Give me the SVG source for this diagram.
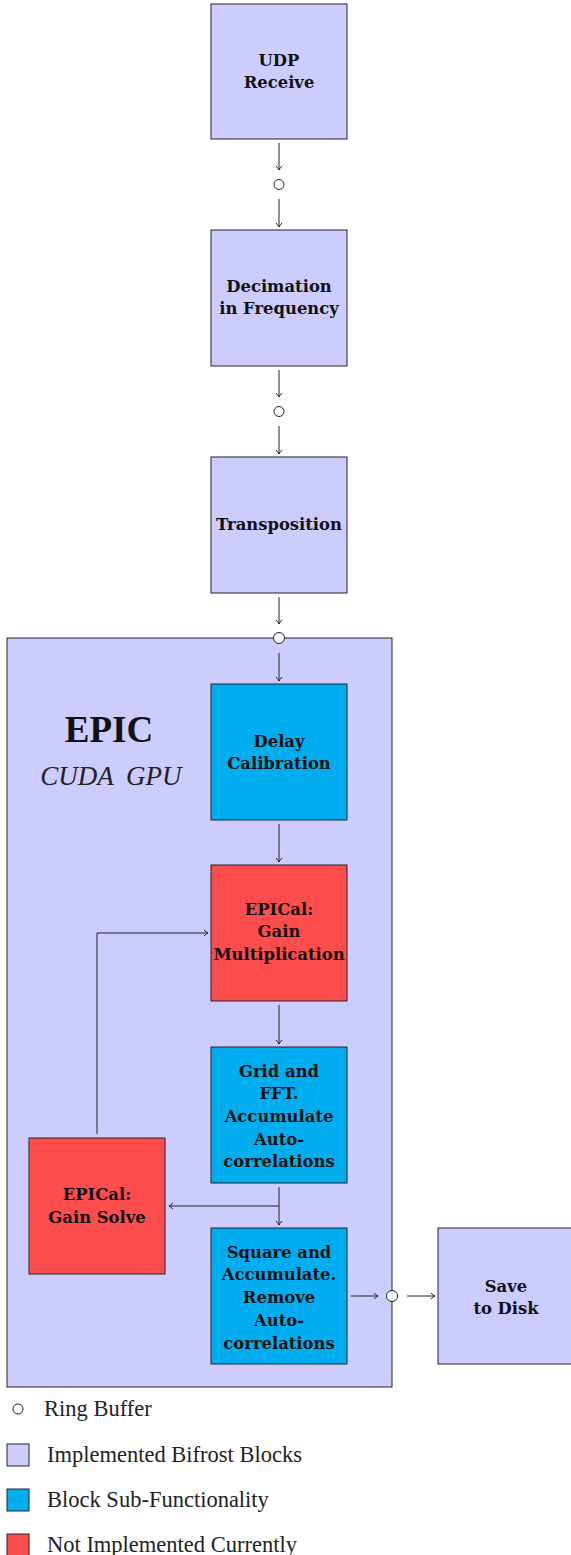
<svg xmlns="http://www.w3.org/2000/svg" width="571" height="1555" viewBox="0 0 571 1555">
<defs>
<marker id="arr" markerUnits="userSpaceOnUse" markerWidth="10" markerHeight="10" viewBox="-6 -5 10 10" refX="0" refY="0" orient="auto">
<path d="M-4,-3 Q-1.5,-0.6 0,0 Q-1.5,0.6 -4,3" fill="none" stroke="#222" stroke-width="1"/>
</marker>
<style>
.blk{stroke:#222;stroke-width:1}
.lav{fill:#ccccff}
.cy{fill:#00aeef}
.rd{fill:#ff4c4c}
.t{font-family:"DejaVu Serif","Liberation Serif",serif;font-weight:bold;font-size:16.4px;fill:#111;text-anchor:middle}
.c{stroke:#222;stroke-width:1;fill:none}
.a{stroke:#222;stroke-width:1;fill:none;marker-end:url(#arr)}
.rb{fill:#fff;stroke:#222;stroke-width:1}
.lg{font-family:"Liberation Serif",serif;font-size:22.5px;fill:#222}
</style>
</defs>

<g id="epic-container">
<rect x="7" y="638" width="385" height="749" class="lav blk"/>
<text x="109" y="742" style="font-family:'Liberation Serif',serif;font-weight:bold;font-size:37px;fill:#111" text-anchor="middle">EPIC</text>
<text x="111" y="785" style="font-family:'Liberation Serif',serif;font-style:italic;font-size:27px;fill:#222" text-anchor="middle" word-spacing="6">CUDA GPU</text>
</g>

<g id="udp">
<rect x="211" y="4" width="136" height="135" class="lav blk"/>
<text class="t" x="279" y="66">UDP</text>
<text class="t" x="279" y="88">Receive</text>
</g>
<g id="decimation">
<rect x="211" y="230" width="136" height="136" class="lav blk"/>
<text class="t" x="279" y="292">Decimation</text>
<text class="t" x="279" y="314">in Frequency</text>
</g>
<g id="transposition">
<rect x="211" y="457" width="136" height="136" class="lav blk"/>
<text class="t" x="279" y="530">Transposition</text>
</g>
<g id="delay">
<rect x="211" y="684" width="136" height="136" class="cy blk"/>
<text class="t" x="279" y="747">Delay</text>
<text class="t" x="279" y="769">Calibration</text>
</g>
<g id="gainmult">
<rect x="211" y="865" width="136" height="136" class="rd blk"/>
<text class="t" x="279" y="915">EPICal:</text>
<text class="t" x="279" y="937">Gain</text>
<text class="t" x="279" y="960">Multiplication</text>
</g>
<g id="grid">
<rect x="211" y="1047" width="136" height="136" class="cy blk"/>
<text class="t" x="279" y="1077">Grid and</text>
<text class="t" x="279" y="1099">FFT.</text>
<text class="t" x="279" y="1122">Accumulate</text>
<text class="t" x="279" y="1145">Auto-</text>
<text class="t" x="279" y="1167">correlations</text>
</g>
<g id="gainsolve">
<rect x="29" y="1138" width="136" height="136" class="rd blk"/>
<text class="t" x="97" y="1200">EPICal:</text>
<text class="t" x="97" y="1223">Gain Solve</text>
</g>
<g id="square">
<rect x="211" y="1228" width="136" height="136" class="cy blk"/>
<text class="t" x="279" y="1258">Square and</text>
<text class="t" x="279" y="1280">Accumulate.</text>
<text class="t" x="279" y="1303">Remove</text>
<text class="t" x="279" y="1326">Auto-</text>
<text class="t" x="279" y="1349">correlations</text>
</g>
<g id="save">
<rect x="438" y="1228" width="136" height="136" class="lav blk"/>
<text class="t" x="506" y="1292">Save</text>
<text class="t" x="506" y="1314">to Disk</text>
</g>

<g id="connectors">
<line class="a" x1="279" y1="143" x2="279" y2="170"/>
<line class="a" x1="279" y1="199" x2="279" y2="227"/>
<line class="a" x1="279" y1="370" x2="279" y2="397"/>
<line class="a" x1="279" y1="426" x2="279" y2="454"/>
<line class="a" x1="279" y1="597" x2="279" y2="624"/>
<line class="a" x1="279" y1="653" x2="279" y2="681"/>
<line class="a" x1="279" y1="824" x2="279" y2="862"/>
<line class="a" x1="279" y1="1005" x2="279" y2="1044"/>
<line class="a" x1="279" y1="1187" x2="279" y2="1225"/>
<polyline class="a" points="279,1206 169,1206"/>
<polyline class="a" points="97,1134 97,933 208,933"/>
<line class="a" x1="351" y1="1296" x2="378" y2="1296"/>
<line class="a" x1="407" y1="1296" x2="435" y2="1296"/>
</g>

<g id="ringbuffers">
<circle class="rb" cx="279" cy="184.5" r="5"/>
<circle class="rb" cx="279" cy="411.5" r="5"/>
<circle class="rb" cx="279" cy="638" r="5.5"/>
<circle class="rb" cx="392" cy="1296" r="5.5"/>
</g>

<g id="legend">
<circle class="rb" cx="18" cy="1409" r="5"/>
<text class="lg" x="44" y="1416">Ring Buffer</text>
<rect x="7" y="1444" width="22" height="22" class="lav blk"/>
<text class="lg" x="47" y="1462">Implemented Bifrost Blocks</text>
<rect x="7" y="1489" width="22" height="22" class="cy blk"/>
<text class="lg" x="47" y="1507">Block Sub-Functionality</text>
<rect x="7" y="1534" width="22" height="22" class="rd blk"/>
<text class="lg" x="47" y="1552">Not Implemented Currently</text>
</g>
</svg>
